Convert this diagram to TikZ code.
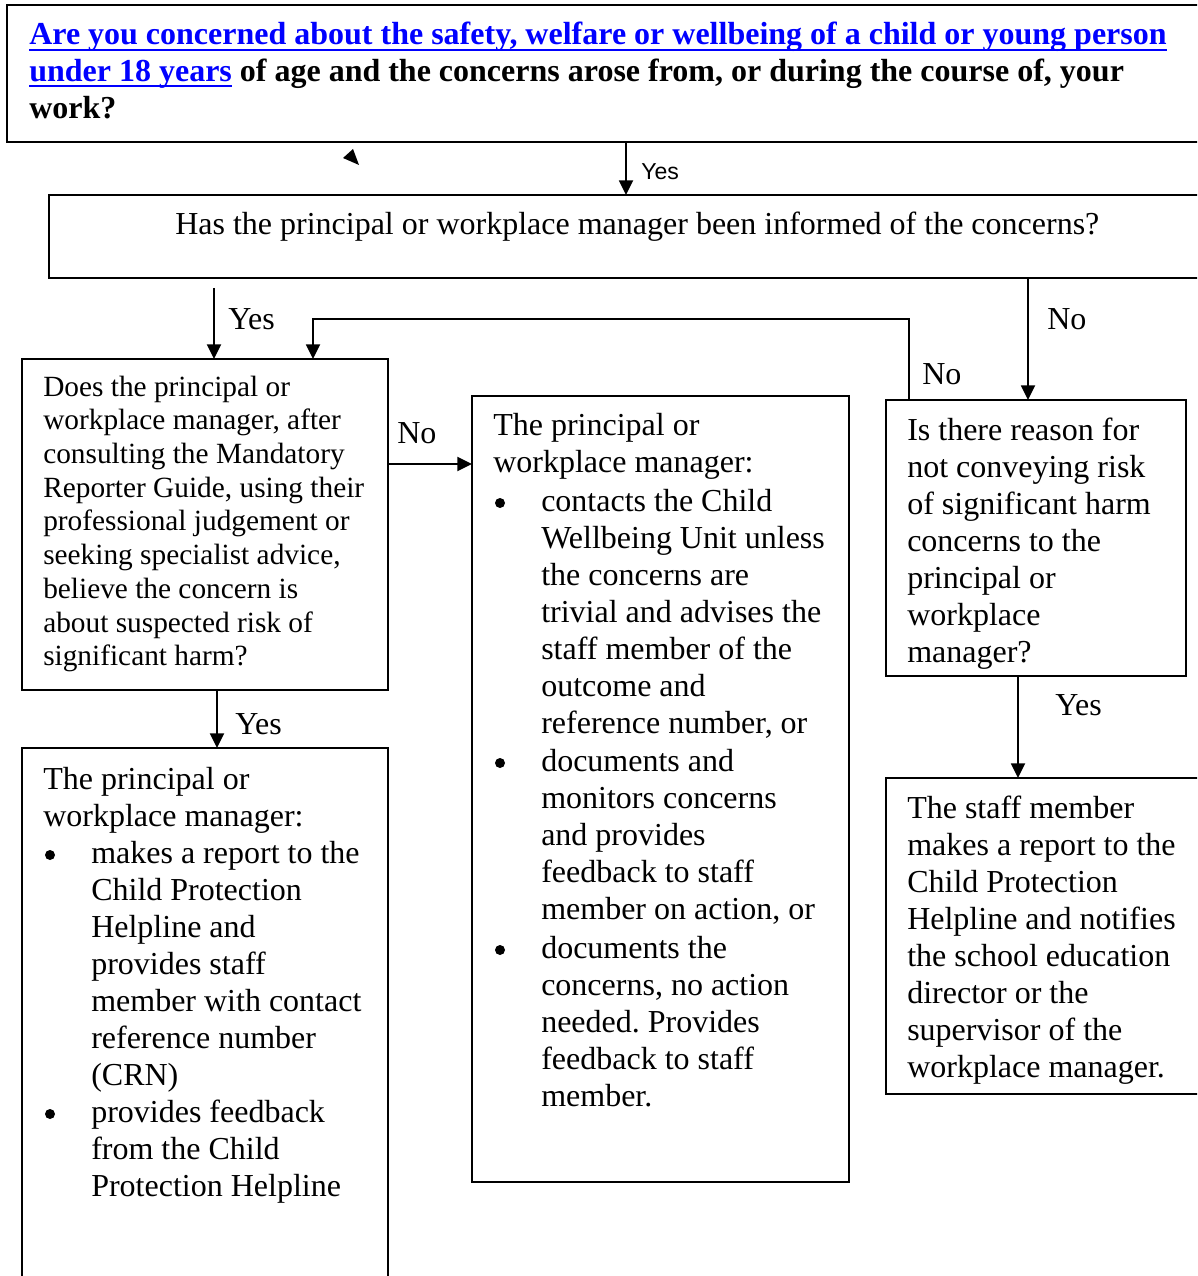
\documentclass[tikz,border=0pt]{standalone}
\usepackage{fontspec}
\setmainfont{Liberation Serif}
\newfontfamily\sansf{Liberation Sans}
\usetikzlibrary{arrows.meta}
\frenchspacing
\definecolor{linkblue}{RGB}{0,0,255}
\newcommand\lines[1]{\begin{tabular}[t]{@{}l@{}}#1\end{tabular}}
\newcommand\myul[1]{\setbox0=\hbox{\textcolor{linkblue}{#1}}\rlap{\textcolor{linkblue}{\rule[-4.2pt]{\wd0}{1.5pt}}}\box0\relax}
\tikzset{
  x=0.75pt, y=-0.75pt,
  box/.style={draw, line width=1.4pt, rectangle, anchor=north west, inner sep=0pt, outer sep=0pt},
  arr/.style={line width=1.4pt, -{Triangle[length=11pt,width=10.5pt]}},
  txt/.style={anchor=base west, inner sep=0pt, font=\fontsize{24}{27.75}\selectfont},
  txtb/.style={anchor=base west, inner sep=0pt, font=\fontsize{22}{25.3}\selectfont},
  lbl/.style={anchor=base west, inner sep=0pt, font=\fontsize{24}{27.75}\selectfont},
  bul/.style={circle, fill, inner sep=0pt, outer sep=0pt, minimum size=7.5pt},
}
\begin{document}
\begin{tikzpicture}
\useasboundingbox (0,0) rectangle (1197,1276);
\clip (0,0) rectangle (1197,1276);
\fill[white] (0,0) rectangle (1197,1276);

% boxes
\node[box, minimum width=1203*0.75pt, minimum height=137*0.75pt] (top) at (7,5) {};
\node[box, minimum width=1161*0.75pt, minimum height=83*0.75pt] (q1) at (49,195) {};
\node[box, minimum width=366*0.75pt, minimum height=331*0.75pt] (l1) at (22,359) {};
\node[box, minimum width=366*0.75pt, minimum height=542*0.75pt] (l2) at (22,748) {};
\node[box, minimum width=377*0.75pt, minimum height=786*0.75pt] (mid) at (472,396) {};
\node[box, minimum width=300*0.75pt, minimum height=276*0.75pt] (r1) at (886,400) {};
\node[box, minimum width=324*0.75pt, minimum height=316*0.75pt] (r2) at (886,778) {};

% texts
\node[txt, font=\bfseries\fontsize{24}{27.4}\selectfont] (ttop) at (29,45) {\lines{%
\myul{Are you concerned about the safety, welfare or wellbeing of a child or young person}\\
\myul{under 18 years} of age and the concerns arose from, or during the course of, your\\
work?}};

\node[txt] (tq1) at (175,235) {Has the principal or workplace manager been informed of the concerns?};

\node[txtb] (tl1) at (43,396) {\lines{Does the principal or\\ workplace manager, after\\ consulting the Mandatory\\ Reporter Guide, using their\\ professional judgement or\\ seeking specialist advice,\\ believe the concern is\\ about suspected risk of\\ significant harm?}};

\node[txt] (tl2a) at (43,789) {\lines{The principal or\\ workplace manager:}};
\node[bul] (bl2a) at (50,855) {};
\node[txt] (tl2b) at (91,863) {\lines{makes a report to the\\ Child Protection\\ Helpline and\\ provides staff\\ member with contact\\ reference number\\ (CRN)}};
\node[bul] (bl2b) at (50,1114) {};
\node[txt] (tl2c) at (91,1122) {\lines{provides feedback\\ from the Child\\ Protection Helpline}};

\node[txt] (tma) at (493,435) {\lines{The principal or\\ workplace manager:}};
\node[bul] (bma) at (500,503) {};
\node[txt] (tmb) at (541,511) {\lines{contacts the Child\\ Wellbeing Unit unless\\ the concerns are\\ trivial and advises the\\ staff member of the\\ outcome and\\ reference number, or}};
\node[bul] (bmb) at (500,763) {};
\node[txt] (tmc) at (541,771) {\lines{documents and\\ monitors concerns\\ and provides\\ feedback to staff\\ member on action, or}};
\node[bul] (bmc) at (500,950) {};
\node[txt] (tmd) at (541,958) {\lines{documents the\\ concerns, no action\\ needed. Provides\\ feedback to staff\\ member.}};

\node[txt] (tr1) at (907,440) {\lines{Is there reason for\\ not conveying risk\\ of significant harm\\ concerns to the\\ principal or\\ workplace\\ manager?}};
\node[txt] (tr2) at (907,818) {\lines{The staff member\\ makes a report to the\\ Child Protection\\ Helpline and notifies\\ the school education\\ director or the\\ supervisor of the\\ workplace manager.}};

% helper coordinates
\coordinate (x626) at (626,0);
\coordinate (a2s) at (214,288);
\coordinate (x909) at (909,0);
\coordinate (loopc) at (313,319);
\coordinate (x1028) at (1028,0);
\coordinate (y464) at (0,464);
\coordinate (x217) at (217,0);
\coordinate (x1018) at (1018,0);

% connectors
\draw[arr] (top.south -| x626) -- (q1.north -| x626);
\draw[arr] (a2s) -- (l1.north -| a2s);
\draw[arr] (r1.north -| x909) |- (loopc) -- (l1.north -| loopc);
\draw[arr] (q1.south -| x1028) -- (r1.north -| x1028);
\draw[arr] (l1.east |- y464) -- (mid.west |- y464);
\draw[arr] (l1.south -| x217) -- (l2.north -| x217);
\draw[arr] (r1.south -| x1018) -- (r2.north -| x1018);

% stray arrowhead
\fill (343,158) -- (353,149) -- (359,165) -- cycle;

% labels
\node[anchor=base west, inner sep=0pt, font=\sansf\fontsize{17.3}{20}\selectfont] (ly0) at (641,180) {Yes};
\node[lbl] (ly1) at (228,330) {Yes};
\node[lbl] (ln1) at (1047,330) {No};
\node[lbl] (ln2) at (922,384) {No};
\node[lbl] (ln3) at (397,443) {No};
\node[lbl] (ly2) at (235,734) {Yes};
\node[lbl] (ly3) at (1055,715) {Yes};
\end{tikzpicture}
\end{document}
